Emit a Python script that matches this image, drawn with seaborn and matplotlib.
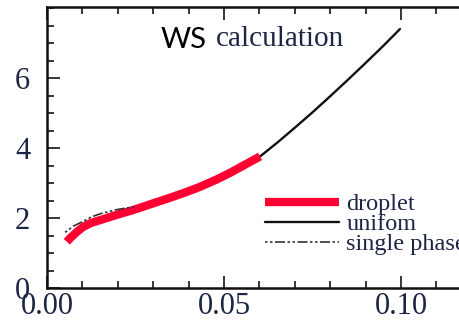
import matplotlib
matplotlib.use("Agg")
import matplotlib.pyplot as plt
from matplotlib.ticker import MultipleLocator
import seaborn as sns

# Energy curves vs density
droplet_x = [0.0056, 0.0065, 0.0084, 0.01025, 0.0125, 0.015, 0.0197, 0.0244,
             0.0291, 0.0339, 0.0385, 0.0432, 0.0479, 0.0517, 0.0573, 0.0602]
droplet_y = [1.32, 1.42, 1.60, 1.75, 1.86, 1.94, 2.09, 2.23,
             2.39, 2.55, 2.71, 2.89, 3.10, 3.29, 3.60, 3.76]

uniform_x = [0.0602, 0.065, 0.070, 0.075, 0.080, 0.085, 0.090, 0.095, 0.0997]
uniform_y = [3.76, 4.15, 4.58, 5.02, 5.48, 5.95, 6.43, 6.92, 7.40]

single_x = [0.0051, 0.0075, 0.0103, 0.0125, 0.015, 0.0197, 0.0245]
single_y = [1.59, 1.77, 1.91, 2.03, 2.12, 2.24, 2.32]

xticks = [0.00, 0.05, 0.10]
xtick_labels = ["0.00", "0.05", "0.10"]
yticks = [0, 2, 4, 6]

sns.set_style("ticks")
plt.rcParams["font.family"] = ["Liberation Serif", "DejaVu Serif"]

fig = plt.figure(figsize=(4.59, 3.25), dpi=100)
W, H = 459, 325
x0, x1 = 47, 47 + 0.12 * 3540
y_top, y_bot = 7, 288
ax = fig.add_axes([x0 / W, 1 - y_bot / H, (x1 - x0) / W, (y_bot - y_top) / H])

text_col = "#1d2545"

sns.lineplot(x=single_x, y=single_y, ax=ax, color="#333333", lw=1.2,
             linestyle=(0, (1.5, 1.5, 1.5, 1.5, 6, 1.5)), label="single phase",
             sort=False, zorder=5)
sns.lineplot(x=uniform_x, y=uniform_y, ax=ax, color="#111111", lw=1.7,
             label="unifom", sort=False, zorder=3)
sns.lineplot(x=droplet_x, y=droplet_y, ax=ax, color="#ff0033", lw=6,
             label="droplet", sort=False, zorder=4, solid_capstyle="butt",
             solid_joinstyle="round")

ax.set_xlim(0, 0.12)
ax.set_ylim(0, 8.03)
ax.set_xticks(xticks)
ax.set_xticklabels(xtick_labels)
ax.set_yticks(yticks)
ax.xaxis.set_minor_locator(MultipleLocator(0.01))
ax.yaxis.set_minor_locator(MultipleLocator(0.5))
ax.tick_params(which="major", direction="in", length=9, width=1.3,
               top=True, right=True, labelsize=22, labelcolor=text_col)
ax.tick_params(which="minor", direction="in", length=5, width=1.3,
               top=True, right=True)
ax.tick_params(axis="x", which="major", pad=3)
ax.tick_params(axis="y", which="major", pad=12)
for s in ax.spines.values():
    s.set_linewidth(1.8)
    s.set_color("#111111")
ax.set_xlabel("")
ax.set_ylabel("")

handles, labels = ax.get_legend_handles_labels()
order = [labels.index(l) for l in ["droplet", "unifom", "single phase"]]
leg = ax.legend([handles[i] for i in order], [labels[i] for i in order],
                loc="upper left", bbox_to_anchor=(265 / W, 1 - 193 / H),
                bbox_transform=fig.transFigure, frameon=False, fontsize=17.5,
                handlelength=3.05, handletextpad=0.3, labelspacing=-0.08,
                borderpad=0, borderaxespad=0)
for t in leg.get_texts():
    t.set_color(text_col)

fig.text(161 / W, 1 - 40 / H, "WS", family=["Lato", "DejaVu Sans"], fontsize=21,
         color="black", va="center", ha="left")
fig.text(216 / W, 1 - 39 / H, "calculation", fontsize=21, color=text_col,
         va="center", ha="left")

fig.savefig("out.png", dpi=100)
